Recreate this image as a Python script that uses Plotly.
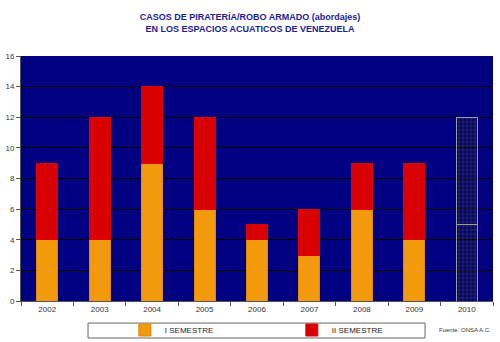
import plotly.graph_objects as go

years = ["2002", "2003", "2004", "2005", "2006", "2007", "2008", "2009", "2010"]
sem1 = [4, 4, 9, 6, 4, 3, 6, 4, 5]
sem2 = [5, 8, 5, 6, 1, 3, 3, 5, 7]
y_ticks = [0, 2, 4, 6, 8, 10, 12, 14, 16]

n = len(years)
shapes_pat = [""] * (n - 1) + ["+"]

fig = go.Figure()
fig.add_trace(go.Bar(
    x=years, y=sem1, name="I SEMESTRE",
    marker=dict(
        color=["#f39a0c"] * (n - 1) + ["#333333"],
        line=dict(color=["#e08a00"] * (n - 1) + ["#9a9a9a"], width=1),
        pattern=dict(shape=shapes_pat, fgcolor="#e0e0e0", bgcolor="#333333",
                     size=4, solidity=0.35, fillmode="replace"),
    ),
))
fig.add_trace(go.Bar(
    x=years, y=sem2, name="II SEMESTRE",
    marker=dict(
        color=["#d80000"] * (n - 1) + ["#333333"],
        line=dict(color=["#e00000"] * (n - 1) + ["#9a9a9a"], width=1),
        pattern=dict(shape=shapes_pat, fgcolor="#e0e0e0", bgcolor="#333333",
                     size=4, solidity=0.35, fillmode="replace"),
    ),
))

fig.update_layout(
    width=500, height=342,
    margin=dict(l=21, r=7, t=56, b=41, autoexpand=False),
    barmode="stack",
    bargap=0.6,
    paper_bgcolor="white",
    plot_bgcolor="#000080",
    font=dict(family="Arial, Liberation Sans, sans-serif", size=8, color="#222"),
    title=dict(
        text="<b>CASOS DE PIRATERÍA/ROBO ARMADO (abordajes)<br>EN LOS ESPACIOS ACUATICOS DE VENEZUELA</b>",
        x=0.5, xanchor="center", y=0.942, yanchor="top",
        font=dict(size=9, color="#1c1c96", family="Arial, Liberation Sans, sans-serif"),
    ),
    xaxis=dict(
        type="category", tickson="boundaries", ticks="outside", ticklen=4,
        tickcolor="#555", showgrid=False, showline=True, linecolor="#555",
        tickfont=dict(size=8, color="#333"),
    ),
    yaxis=dict(
        range=[0, 16], tickvals=y_ticks, ticks="outside", ticklen=4, tickcolor="#555",
        showgrid=True, gridcolor="black", gridwidth=1, showline=True, linecolor="#555",
        zeroline=False, tickfont=dict(size=8, color="#333"),
    ),
    legend=dict(
        orientation="h", x=0.22, xanchor="left",
        yref="container", y=0.035, yanchor="middle",
        bgcolor="rgba(0,0,0,0)", borderwidth=0, entrywidth=122, itemwidth=30,
        font=dict(size=8, color="#222"), traceorder="normal",
        tracegroupgap=0,
    ),
    showlegend=True,
    shapes=[dict(
        type="rect", xref="paper", yref="paper",
        x0=0.142, x1=0.856, y0=-0.151, y1=-0.090,
        line=dict(color="#666", width=1), fillcolor="rgba(0,0,0,0)", layer="below",
    )],
    annotations=[dict(
        text="Fuente: ONSA A.C.", x=1.0, xref="paper", y=-0.118, yref="paper",
        xanchor="right", yanchor="middle", showarrow=False,
        font=dict(size=6, color="#333"),
    )],
)

fig.write_html("out.html")
